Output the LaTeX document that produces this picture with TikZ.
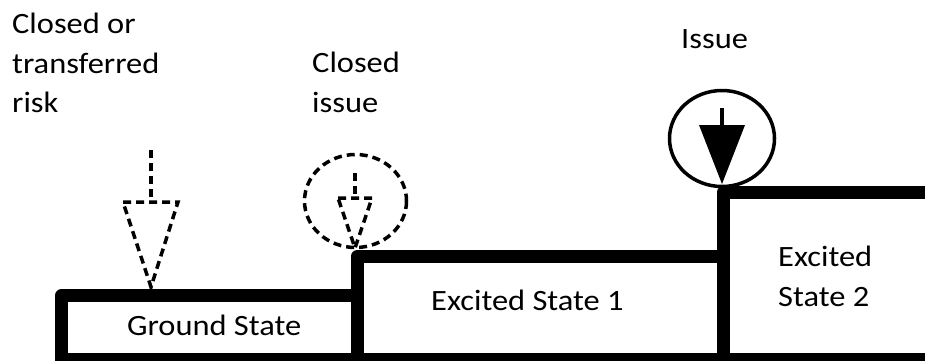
\documentclass[tikz,border=0pt]{standalone}
\usepackage{fontspec}
\setmainfont{Carlito}[FakeStretch=1.1]
\begin{document}
\begin{tikzpicture}[x=1pt,y=-1pt,
  level/.style={line width=13pt, line join=round},
  marker/.style={line width=3.5pt},
  dashmark/.style={marker, dash pattern=on 8pt off 5pt},
  lbl/.style={anchor=base west, inner sep=0pt, font=\fontsize{29.5}{40}\selectfont}]
\useasboundingbox (0,0) rectangle (925,360);
\clip (0,0) rectangle (925,360);

% energy levels: three boxes standing on a common floor
\draw[level] (61.5,380) -- (61.5,295.5) -- (357,295.5) -- (357,380);
\draw[level] (357,380) -- (357,256.5) -- (723,256.5) -- (723,380);
\draw[level] (723,380) -- (723,192.5) -- (950,192.5);
\draw[level] (55,359.5) -- (950,359.5);

% level labels
\node[lbl] (gs)   at (127,335) {Ground State};
\node[lbl] (es1)  at (431,310) {Excited State 1};
\node[lbl] (es2a) at (778,266) {Excited};
\node[lbl] (es2b) at (778,306) {State 2};

% closed or transferred risk: dashed arrow onto the ground state
\draw[dashmark] (151,150) -- (151,202);
\draw[dashmark] (123,202) -- (178,202) -- (151,287) -- cycle;

% closed issue: dashed circled arrow at the first step
\draw[dashmark] (355.5,201) ellipse [x radius=51, y radius=46.5];
\draw[dashmark] (355,173) -- (355,198);
\draw[dashmark] (338,198) -- (372,198) -- (355,248) -- cycle;

% issue: solid circled arrow at the second step
\draw[marker] (722,138.5) ellipse [x radius=52.5, y radius=48];
\draw[marker] (722,108) -- (722,126);
\fill (699,125) -- (745,125) -- (722,184) -- cycle;

% marker labels
\node[lbl] (cr1) at (12,33)  {Closed or};
\node[lbl] (cr2) at (12,73)  {transferred};
\node[lbl] (cr3) at (12,112) {risk};
\node[lbl] (ci1) at (312,72)  {Closed};
\node[lbl] (ci2) at (312,112) {issue};
\node[lbl] (is)  at (681,48)  {Issue};
\end{tikzpicture}
\end{document}
